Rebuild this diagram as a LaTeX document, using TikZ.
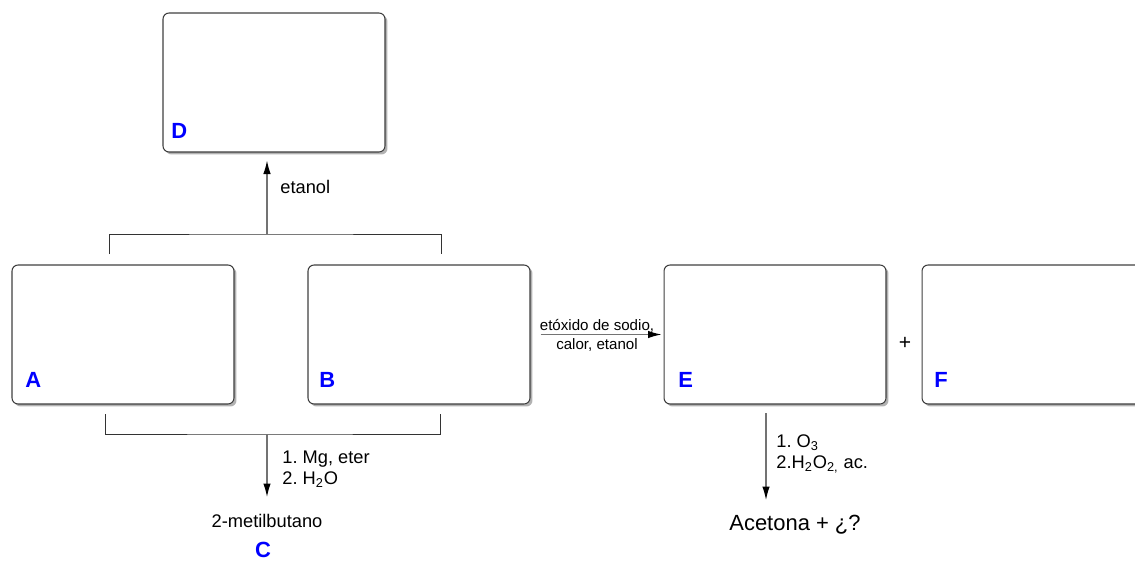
\documentclass[tikz,border=0pt]{standalone}
\usepackage{fontspec}
\setmainfont{Liberation Sans}
\frenchspacing
\usetikzlibrary{arrows.meta, shadows, positioning}
\tikzstyle{cbox} = [draw=black!75, line width=0.6pt, rounded corners=0.12cm, fill=white, minimum width=4.44cm, minimum height=2.78cm, drop shadow={shadow xshift=0.05cm, shadow yshift=-0.05cm, fill=black!30, opacity=1}]
\tikzstyle{tag} = [text=blue, font=\fontsize{12.5}{14}\selectfont\bfseries, inner sep=0pt]
\tikzstyle{txt} = [font=\fontsize{10.4}{12}\selectfont, align=left, inner sep=0pt]
\tikzstyle{line} = [draw=black!80, line width=0.45pt]
\tikzstyle{arr} = [draw=black!55, line width=0.7pt, -{Latex[length=0.27cm, width=0.15cm, color=black]}]

\begin{document}
\begin{tikzpicture}[x=0.02cm, y=-0.02cm]
			\useasboundingbox (0,0) rectangle (1135,561);
			\node [cbox] (D) at (274, 82.5) {};
			\node [cbox] (A) at (123, 334.5) {};
			\node [cbox] (B) at (419, 334.5) {};
			\node [cbox] (E) at (775, 334.5) {};
			\node [cbox] (F) at (1033, 334.5) {};
			
			\node [tag, anchor=west] (lD) at (171, 131) {D};
			\node [tag, anchor=west] (lA) at (25, 380) {A};
			\node [tag, anchor=west] (lB) at (319, 380) {B};
			\node [tag, anchor=west] (lE) at (678, 380) {E};
			\node [tag, anchor=west] (lF) at (934, 380) {F};
			
			% A + B gives D
			\coordinate (ta) at (109, 254);
			\coordinate (tb) at (441, 254);
			\coordinate (tm) at (267, 234);
			\path [line] (ta) |- (tm) -| (tb);
			\path [arr, shorten >=0.16cm] (tm) -- (tm |- D.south);
			\node [txt, anchor=west] (etanol) at (280, 187) {etanol};
			
			% A + B gives C
			\coordinate (ba) at (105, 414);
			\coordinate (bb) at (440, 414);
			\coordinate (bm) at (267, 434);
			\node [txt] (C) at (267, 521) {2-metilbutano};
			\node [tag] (lC) at (263, 550) {C};
			\path [line] (ba) |- (bm) -| (bb);
			\path [arr] (bm) -- (267, 497) coordinate (bend);
			\node [txt, anchor=west] (mg) at (282, 469) {1. Mg, eter\\2. H\textsubscript{2}O};
			
			% B to E
			\path [arr, shorten <=0.2cm, shorten >=0.04cm] (B) -- node [above=0.02cm, font=\fontsize{8.6}{10}\selectfont, inner sep=0pt] (cond1) {etóxido de sodio,} node [below=0.06cm, font=\fontsize{8.6}{10}\selectfont, inner sep=0pt] (cond2) {calor, etanol} (E);
			\node [txt, font=\fontsize{12}{14}\selectfont] (plus) at (905, 343) {+};
			
			% E gives acetona
			\coordinate (e1) at (766, 413);
			\coordinate (e2) at (766, 500);
			\path [arr] (e1) -- (e2);
			\node [txt, anchor=west] (ozono) at (776, 454) {1. O\textsubscript{3}\\2.H\textsubscript{2}O\textsubscript{2,} ac.};
			\node [txt, font=\fontsize{12.5}{14}\selectfont] (acet) at (795, 525) {Acetona + ¿?};
		\end{tikzpicture}
\end{document}
